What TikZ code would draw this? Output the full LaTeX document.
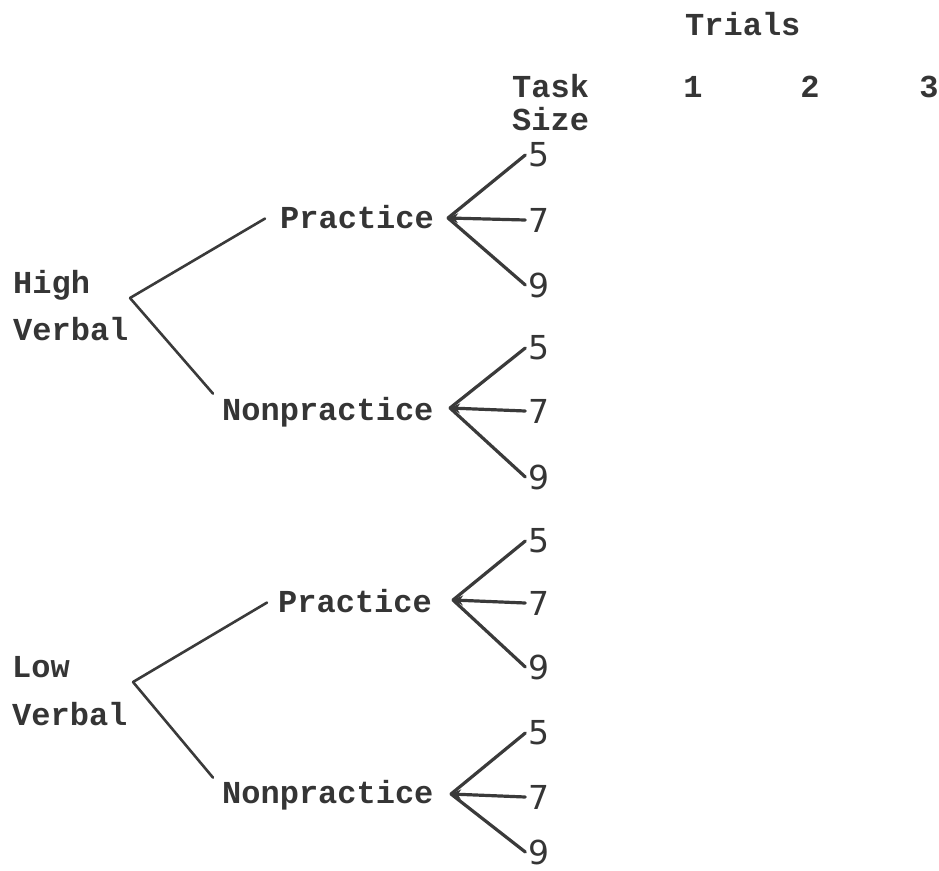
\documentclass[tikz,border=0pt]{standalone}
\usepackage{fontspec}
\setmonofont{Liberation Mono}
\newfontfamily\handfont{DejaVu Sans}
\usetikzlibrary{arrows.meta}
\definecolor{ink}{HTML}{353535}
\definecolor{lineink}{HTML}{3A3A3A}
\tikzset{
  typed/.style={font=\fontsize{32}{36}\selectfont\ttfamily\bfseries, text=ink, inner sep=0pt, anchor=base west},
  typedc/.style={typed, anchor=base},
  digit/.style={font=\fontsize{33}{36}\selectfont\handfont, text=ink, inner xsep=3pt, inner ysep=1pt, anchor=center},
  branchline/.style={draw=lineink, line width=2.6pt, line cap=round},
  fanline/.style={draw=lineink, line width=3.2pt, line cap=round},
  fanmid/.style={fanline, {Stealth[length=10pt,width=10pt]}-},
}
\begin{document}
\begin{tikzpicture}[x=1pt,y=-1pt]
\useasboundingbox (0,0) rectangle (939,870);

% header
\node[typed] (trials) at (685,35) {Trials};
\node[typed] (task) at (512,97) {Task};
\node[typed] (size) at (512,130) {Size};
\node[typedc] (t1) at (693,97) {1};
\node[typedc] (t2) at (810,97) {2};
\node[typedc] (t3) at (929,97) {3};

% high verbal group
\node[typed] (high) at (13,293) {High};
\node[typed] (hverbal) at (13,340) {Verbal};
\coordinate (bh) at (130,298);
\node[typed] (hp) at (280,228) {Practice};
\node[typed] (hn) at (222,420) {Nonpractice};
\draw[branchline] (bh) -- ([xshift=-15pt,yshift=-2pt]hp.west);
\draw[branchline] (bh) -- ([xshift=-9pt,yshift=3pt]hn.north west);

% low verbal group
\node[typed] (low) at (12,677) {Low};
\node[typed] (lverbal) at (12,725) {Verbal};
\coordinate (bl) at (133,682);
\node[typed] (lp) at (278,612) {Practice};
\node[typed] (ln) at (222,803) {Nonpractice};
\draw[branchline] (bl) -- ([xshift=-11pt,yshift=-2pt]lp.west);
\draw[branchline] (bl) -- ([xshift=-9pt,yshift=2pt]ln.north west);

% fans
\coordinate (f1) at (448,218);
\node[digit] (a5) at (539,155) {5};
\node[digit] (a7) at (539,220) {7};
\node[digit] (a9) at (539,285) {9};
\draw[fanline] (f1) -- (a5.west);
\draw[fanmid] (f1) -- (a7.west);
\draw[fanline] (f1) -- (a9.west);

\coordinate (f2) at (450,408);
\node[digit] (b5) at (539,348) {5};
\node[digit] (b7) at (539,411) {7};
\node[digit] (b9) at (539,477) {9};
\draw[fanline] (f2) -- (b5.west);
\draw[fanmid] (f2) -- (b7.west);
\draw[fanline] (f2) -- (b9.west);

\coordinate (f3) at (453,600);
\node[digit] (c5) at (539,541) {5};
\node[digit] (c7) at (539,603) {7};
\node[digit] (c9) at (539,667) {9};
\draw[fanline] (f3) -- (c5.west);
\draw[fanmid] (f3) -- (c7.west);
\draw[fanline] (f3) -- (c9.west);

\coordinate (f4) at (451,794);
\node[digit] (d5) at (539,733) {5};
\node[digit] (d7) at (539,797) {7};
\node[digit] (d9) at (539,852) {9};
\draw[fanline] (f4) -- (d5.west);
\draw[fanmid] (f4) -- (d7.west);
\draw[fanline] (f4) -- (d9.west);
\end{tikzpicture}
\end{document}
